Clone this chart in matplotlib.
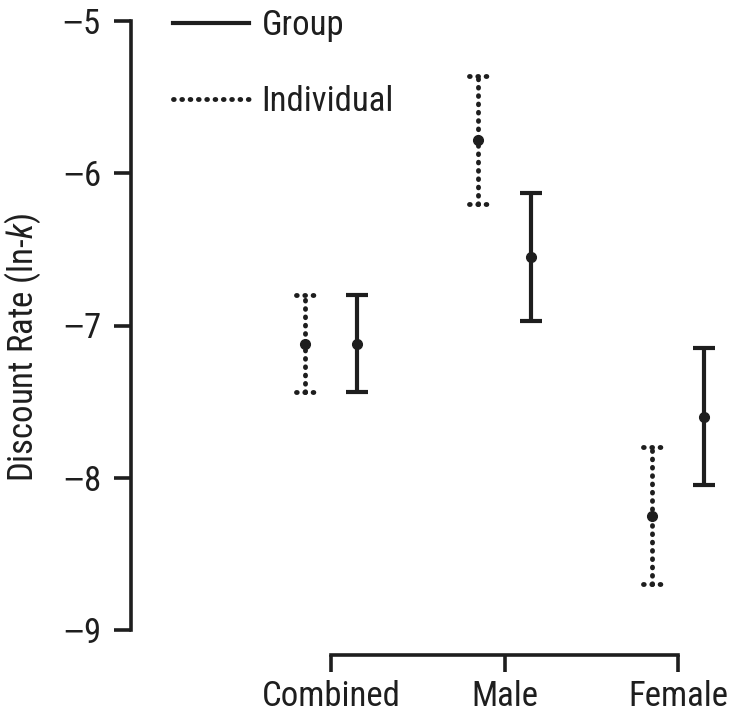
import matplotlib
matplotlib.use("Agg")
import matplotlib.pyplot as plt
import numpy as np
from matplotlib.lines import Line2D

FAM = ['Liberation Sans Narrow', 'Roboto Condensed', 'Liberation Sans', 'DejaVu Sans']
plt.rcParams['font.family'] = FAM
plt.rcParams['mathtext.fontset'] = 'custom'
plt.rcParams['mathtext.rm'] = 'Liberation Sans'
plt.rcParams['mathtext.it'] = 'Roboto Condensed:italic'

categories = ["Combined", "Male", "Female"]
individual_mean = [-7.12, -5.78, -8.25]
individual_err = [0.32, 0.42, 0.45]
group_mean = [-7.12, -6.55, -7.60]
group_err = [0.32, 0.42, 0.45]
yticks = [-9, -8, -7, -6, -5]

color = "#1e1e1e"
FS = 25
W, H = 733, 718
fig = plt.figure(figsize=(W / 100, H / 100), dpi=100)
left_px, right_px, top_px, bot_px = 131, 725, 21, 630
ax = fig.add_axes([left_px / W, 1 - bot_px / H, (right_px - left_px) / W, (bot_px - top_px) / H])

x = np.arange(len(categories))
off = 0.15
cap = 0.052
dots = (0, (0.15, 1.56))
dlw = 3.5

# Individual (dotted)
xi = x - off
imean = np.array(individual_mean)
ierr = np.array(individual_err)
ax.vlines(xi, imean - ierr, imean + ierr, colors=color, linestyles=dots, linewidth=dlw, capstyle='round')
for y0 in [imean - ierr, imean + ierr]:
    ax.hlines(y0, xi - cap, xi + cap, colors=color, linestyles=dots, linewidth=dlw, capstyle='round')
ax.plot(xi, individual_mean, 'o', color=color, markersize=7, linestyle='none')

# Group (solid)
xg = x + off
ax.errorbar(xg, group_mean, yerr=group_err, fmt='o', color=color, markersize=7,
            elinewidth=3, capsize=8, capthick=3)

ax.set_xlim((left_px - 331) / 173.5, (right_px - 331) / 173.5)
ax.set_ylim(-9, -5)
ax.set_yticks(yticks)
ax.set_yticklabels([r"$-$" + f"{abs(t)}" for t in yticks])
ax.set_xticks(x)
ax.set_xticklabels(categories)

for s in ['top', 'right']:
    ax.spines[s].set_visible(False)
ax.spines['left'].set_bounds(-9, -5)
ax.spines['bottom'].set_bounds(0, 2)
ax.spines['bottom'].set_position(('outward', 18))
for s in ['left', 'bottom']:
    ax.spines[s].set_linewidth(2.6)
    ax.spines[s].set_color(color)
    ax.spines[s].set_capstyle('projecting')
ax.tick_params(axis='y', length=12, width=2.6, color=color, labelsize=FS, pad=10, labelcolor=color)
ax.tick_params(axis='x', length=12, width=2.6, color=color, labelsize=FS, pad=6, labelcolor=color)

ax.set_ylabel("Discount Rate (ln-$k$)", fontsize=FS, color=color)
ax.yaxis.set_label_coords(-0.148, 0.464)

handles = [Line2D([], [], color=color, linewidth=3),
           Line2D([], [], color=color, linewidth=dlw, linestyle=dots, dash_capstyle='round')]
ax.legend(handles, ["Group", "Individual"], loc='upper left', bbox_to_anchor=(0.0707, 1.02),
          frameon=False, fontsize=FS, handlelength=2.2, labelspacing=1.25, handletextpad=0.35,
          borderpad=0, borderaxespad=0, labelcolor=color)

fig.savefig("out.png", dpi=100)
